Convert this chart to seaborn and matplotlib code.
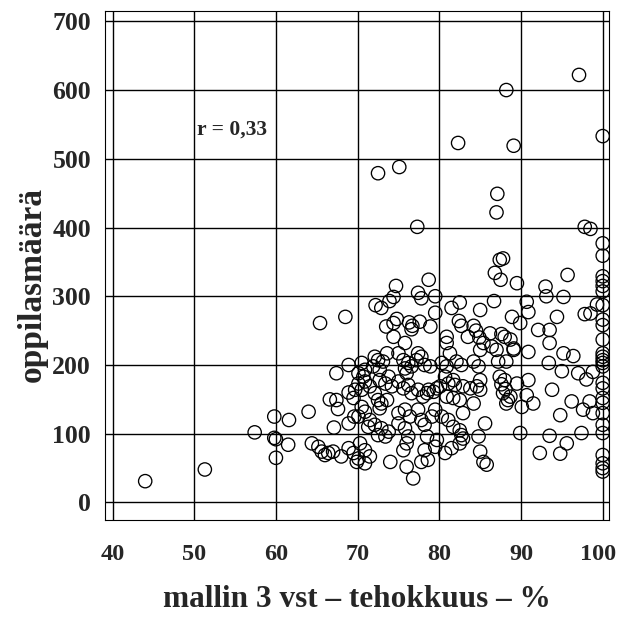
import matplotlib
matplotlib.use('Agg')
import matplotlib.pyplot as plt
import matplotlib.transforms as mtransforms
import seaborn as sns
import pandas as pd
from matplotlib.ticker import MultipleLocator

# mallin 3 vst-tehokkuus (%) ja oppilasmäärä, luettu kuvasta kaistoittain
teho_yla = [97.1, 88.2, 100, 82.3, 89.1, 75.1, 72.5, 87.1, 87.0, 77.3, 97.8, 98.5, 100, 100,
            87.4, 87.8, 86.8, 95.7, 87.5, 78.7, 89.5, 74.7, 93.0, 100, 100, 100, 100, 77.4,
            74.4, 77.8, 79.5, 93.1, 95.2, 73.9]
oppi_yla = [622, 600, 533, 523, 519, 488, 479, 449, 422, 401, 401, 398, 377, 359,
            353, 355, 334, 331, 324, 324, 319, 315, 314, 329, 322, 315, 307, 305,
            299, 297, 300, 300, 299, 293]

teho_250 = [72.2, 72.9, 82.5, 81.5, 85.0, 79.5, 86.7, 90.7, 97.8, 98.5, 88.9, 90.9, 99.3, 100,
            89.9, 94.4, 100, 100, 65.4, 68.5, 73.5, 74.4, 74.8, 76.3, 76.7, 76.6, 77.6, 78.9,
            82.4, 82.7, 84.2, 84.5, 84.9, 92.1, 93.5]
oppi_250 = [287, 283, 291, 283, 280, 276, 293, 292, 274, 275, 270, 277, 288, 287,
            261, 270, 266, 258, 261, 270, 256, 261, 267, 262, 257, 252, 263, 256,
            264, 257, 257, 250, 240, 251, 251]

teho_200 = [83.5, 80.9, 80.9, 74.4, 75.8, 86.2, 87.6, 88.0, 88.7, 89.1, 86.4, 87.0, 87.2, 85.0,
            85.4, 81.3, 82.1, 84.2, 88.2, 89.1, 90.9, 93.5, 95.2, 96.4, 93.4, 100, 100, 100,
            100, 100, 100, 82.7, 84.8, 78.9, 80.3, 80.9,
            70.5, 70.9, 72.1, 72.5, 71.9, 72.7, 73.6, 73.1, 75.0, 75.6, 76.2, 75.8, 76.6, 77.2,
            77.8, 78.2, 77.4, 68.9]
oppi_200 = [241, 241, 232, 241, 232, 246, 245, 241, 237, 224, 227, 222, 205, 222,
            232, 217, 205, 205, 205, 222, 219, 232, 217, 213, 203, 237, 217, 212,
            207, 203, 198, 200, 198, 198, 203, 198,
            203, 193, 212, 207, 198, 193, 217, 205, 217, 207, 203, 195, 198, 207,
            212, 200, 217, 200]

teho_150 = [97.0, 98.0, 98.8, 95.0, 90.9, 100, 100, 100, 93.8, 90.7, 88.7, 87.8, 88.0, 87.4,
            89.5, 87.6, 88.1, 85.0, 84.6, 85.0, 83.8, 82.9, 81.7, 81.1, 80.1, 79.7, 79.3, 80.9,
            81.7, 78.5, 80.7, 81.9, 82.5, 84.2, 88.4,
            70.1, 70.7, 76.0, 70.1, 70.9, 70.5, 71.5, 72.1, 72.7, 73.4, 73.8, 74.2, 75.0, 75.6,
            76.2, 76.6, 77.4, 78.0, 78.7,
            67.4, 66.6, 67.4, 68.9, 69.5, 69.7]
oppi_150 = [188, 179, 190, 191, 178, 174, 166, 152, 164, 156, 154, 159, 178, 183,
            173, 172, 165, 178, 169, 164, 166, 169, 178, 173, 169, 166, 161, 154,
            152, 159, 183, 171, 149, 144, 149,
            188, 183, 188, 173, 176, 164, 169, 159, 178, 173, 183, 169, 176, 166,
            171, 159, 164, 154, 164,
            188, 150, 149, 160, 152, 164]

teho_100 = [96.2, 98.4, 100, 94.8, 97.6, 98.8, 100, 100, 100, 88.2, 90.1, 91.5, 89.9, 97.4,
            82.9, 85.6, 81.1, 81.7, 82.5, 79.5, 80.3,
            70.5, 70.9, 70.1, 71.5, 72.5, 72.9, 72.7, 73.6, 75.0, 75.8, 76.4, 77.4, 77.8, 78.2,
            79.1, 71.3, 72.1, 72.9, 73.8, 75.0, 75.8,
            67.6, 67.1, 68.9, 69.6, 64.0, 61.6, 59.8, 57.4]
oppi_100 = [147, 147, 145, 127, 135, 130, 130, 113, 101, 144, 139, 144, 101, 101,
            130, 115, 120, 110, 105, 135, 125,
            139, 132, 125, 120, 149, 144, 137, 149, 130, 135, 125, 135, 120, 113,
            125, 110, 113, 108, 103, 115, 108,
            136, 109, 115, 125, 132, 120, 125, 102]

teho_ala = [93.5, 95.6, 92.3, 94.8, 100, 100, 100, 100, 82.9, 82.5, 82.7, 84.8, 85.0, 85.8,
            85.4, 78.5, 79.7, 78.2, 78.6, 80.7, 81.5, 79.5, 77.8,
            72.5, 73.4, 76.2, 76.0, 75.6, 70.3, 70.9, 71.5, 70.1, 70.9, 74.0, 76.0, 76.8,
            59.8, 60.0, 61.5, 60.0, 64.4, 65.2, 65.6, 66.0, 66.4, 67.0, 68.0, 68.9, 69.5, 69.9,
            44.0, 51.3]
oppi_ala = [97, 86, 72, 71, 69, 57, 50, 45, 93, 86, 98, 96, 74, 55,
            59, 96, 91, 76, 62, 72, 79, 81, 59,
            98, 96, 96, 86, 76, 86, 76, 67, 64, 57, 59, 52, 35,
            94, 92, 84, 65, 86, 81, 74, 69, 72, 74, 67, 79, 72, 59,
            31, 48]

x_ticks = [40, 50, 60, 70, 80, 90, 100]
y_ticks = [0, 100, 200, 300, 400, 500, 600, 700]

df = pd.DataFrame({
    'tehokkuus': teho_yla + teho_250 + teho_200 + teho_150 + teho_100 + teho_ala,
    'oppilaat': oppi_yla + oppi_250 + oppi_200 + oppi_150 + oppi_100 + oppi_ala,
})

sns.set_style('white')
plt.rcParams['font.family'] = ['Liberation Serif', 'DejaVu Serif']

fig = plt.figure(figsize=(6.19, 6.27), dpi=100)
ax = fig.add_axes([105 / 619, 1 - 520 / 627, 504 / 619, 509 / 627])

sns.scatterplot(data=df, x='tehokkuus', y='oppilaat', ax=ax, s=92,
                facecolor='none', edgecolor='black', linewidth=0.95, zorder=3)

ax.set_xlim(39.08, 100.77)
ax.set_ylim(-25.5, 715)
ax.set_xticks(x_ticks)
ax.set_yticks(y_ticks)
ax.xaxis.set_minor_locator(MultipleLocator(2))
ax.yaxis.set_minor_locator(MultipleLocator(25))
ax.grid(True, which='major', color='black', linewidth=1.0)

for s in ax.spines.values():
    s.set_color('black')
    s.set_linewidth(0.8)

ax.tick_params(axis='x', which='major', direction='out', length=11, width=1.0,
               color='black', pad=6, labelsize=17.5)
ax.tick_params(axis='x', which='minor', direction='out', length=5.5, width=0.8, color='black')
ax.tick_params(axis='y', which='major', direction='out', length=6, width=1.0,
               color='black', pad=4, labelsize=18.5)
ax.tick_params(axis='y', which='minor', direction='out', length=3.5, width=0.8, color='black')
for lab in ax.get_xticklabels() + ax.get_yticklabels():
    lab.set_fontweight('bold')

# viimeinen x-nimiö hieman vasemmalle, ettei se leikkaudu reunasta
last = ax.get_xticklabels()[-1]
last.set_transform(last.get_transform() +
                   mtransforms.ScaledTranslation(-3 / 72, 0, fig.dpi_scale_trans))

ax.text(50.3, 542, 'r = 0,33', fontsize=15.5, fontweight='bold', va='center', ha='left')

ax.set_xlabel('mallin 3 vst – tehokkuus – %', fontsize=22.5, fontweight='bold',
              va='center', ha='center')
ax.set_ylabel('oppilasmäärä', fontsize=24, fontweight='bold', va='center', ha='center')
ax.xaxis.set_label_coords(0.5, -0.157)
ax.yaxis.set_label_coords(-0.145, 0.462)

fig.savefig('out.png', dpi=100)
